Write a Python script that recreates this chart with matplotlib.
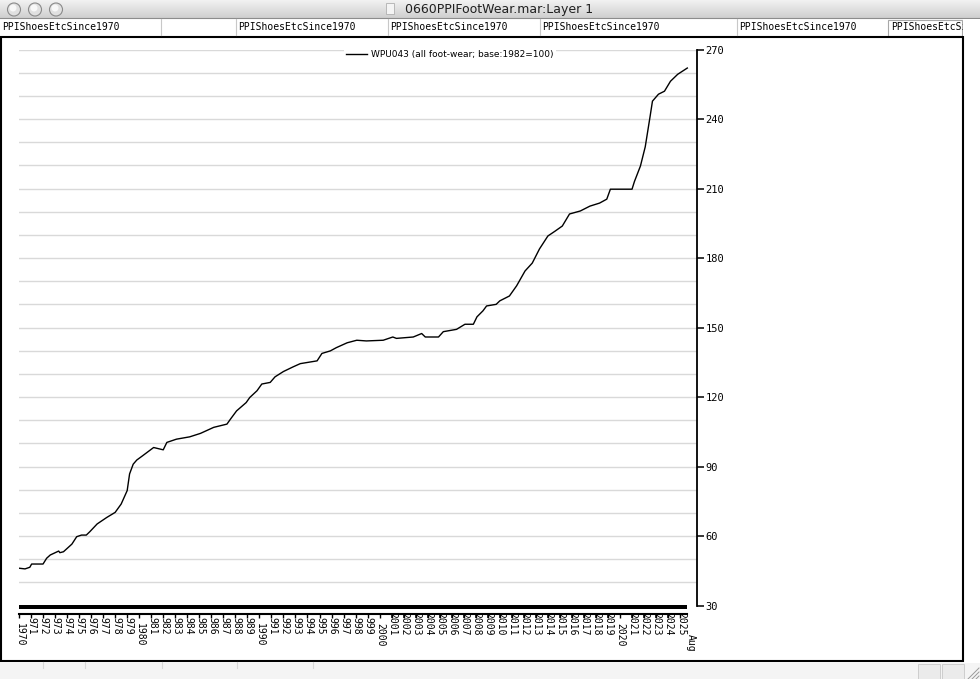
import matplotlib
matplotlib.use("Agg")
import matplotlib.pyplot as plt
from matplotlib.patches import Rectangle, Circle
from matplotlib.lines import Line2D
import numpy as np

# ---------------- data ----------------
t = [1970.0, 1970.5, 1970.9, 1971.05, 1972.0, 1972.3, 1972.6, 1973.3, 1973.4, 1973.7,
     1974.4, 1974.8, 1975.2, 1975.6, 1975.9, 1976.5, 1977.3, 1978.0, 1978.5, 1979.0,
     1979.2, 1979.5, 1979.8, 1980.3, 1981.2, 1982.0, 1982.3, 1983.1, 1984.2, 1985.1,
     1986.2, 1987.3, 1987.6, 1988.1, 1988.9, 1989.2, 1989.8, 1990.2, 1990.9, 1991.3,
     1992.0, 1992.8, 1993.4, 1994.8, 1995.2, 1995.9, 1996.4, 1997.3, 1998.1, 1998.9,
     2000.3, 2001.1, 2001.4, 2002.8, 2003.5, 2003.8, 2004.9, 2005.3, 2006.4, 2007.1,
     2007.8, 2008.1, 2008.6, 2008.9, 2009.7, 2010.0, 2010.8, 2011.4, 2012.1, 2012.7,
     2013.3, 2014.0, 2014.6, 2015.2, 2015.8, 2016.7, 2017.5, 2018.3, 2018.9, 2019.2,
     2021.0, 2021.2, 2021.7, 2022.1, 2022.5, 2022.7, 2023.2, 2023.7, 2024.2, 2024.8,
     2025.6]
wpu043 = [46.1, 45.8, 46.5, 47.9, 47.9, 50.4, 51.8, 53.5, 52.8, 53.2,
          56.5, 59.7, 60.4, 60.4, 61.9, 65.2, 68.0, 70.2, 73.8, 79.6,
          86.8, 91.0, 92.8, 94.7, 98.2, 97.2, 100.4, 101.8, 102.8, 104.3,
          106.9, 108.3, 110.5, 114.0, 117.6, 119.8, 122.7, 125.6, 126.3, 128.7,
          131.0, 133.0, 134.4, 135.6, 138.8, 139.9, 141.3, 143.4, 144.5, 144.2,
          144.5, 145.9, 145.3, 145.9, 147.4, 145.9, 145.9, 148.2, 149.2, 151.4,
          151.4, 154.6, 157.2, 159.3, 160.0, 161.5, 163.6, 168.0, 174.4, 177.8,
          183.9, 189.5, 191.6, 193.8, 199.0, 200.3, 202.4, 203.7, 205.4, 209.7,
          209.7, 213.0, 219.7, 228.0, 241.0, 247.7, 250.7, 252.0, 256.3, 259.3,
          262.0]
years = list(range(1970, 2026))
y_ticks = [30, 60, 90, 120, 150, 180, 210, 240, 270]
legend_label = "WPU043 (all foot-wear; base:1982=100)"
window_title = "0660PPIFootWear.mar:Layer 1"
tab_label = "PPIShoesEtcSince1970"

W, H = 980, 679
fig = plt.figure(figsize=(W / 100, H / 100), dpi=100)
fig.patch.set_facecolor("white")

# ---------------- window chrome (pixel coords) ----------------
bg = fig.add_axes([0, 0, 1, 1], zorder=-5)
bg.set_xlim(0, W)
bg.set_ylim(H, 0)
bg.axis("off")
grad = np.linspace(0, 1, 20).reshape(-1, 1)
bg.imshow(grad, extent=[0, W, 18, 0], cmap=matplotlib.colors.LinearSegmentedColormap.from_list(
    "tb", ["#f2f2f2", "#cfcfcf"]), aspect="auto", zorder=0)
bg.plot([0, W], [18, 18], color="#8c8c8c", lw=0.8)
for cx in (14, 35, 56):
    bg.add_patch(Circle((cx, 9.5), 6.5, facecolor="#e0e0e0", edgecolor="#8a8a8a", lw=0.8, zorder=2))
    bg.add_patch(Circle((cx - 1, 8), 3.5, facecolor="#f8f8f8", edgecolor="none", zorder=3))
bg.add_patch(Rectangle((386, 3), 8, 11, facecolor="#f4f4f4", edgecolor="#b0b0b0", lw=0.6, zorder=2))
bg.text(499, 9.5, window_title, ha="center", va="center", fontsize=9,
        family="DejaVu Sans", color="#202020")
# tabs
for xs in (161, 236, 388, 540, 737):
    bg.plot([xs, xs], [19, 35], color="#c8c8c8", lw=0.8)
bg.add_patch(Rectangle((888, 19.5), 74, 16, facecolor="white", edgecolor="#a8a8a8", lw=0.8))
for xl in (2, 238, 390, 542, 739, 891):
    bg.text(xl, 27.5, tab_label, ha="left", va="center", fontsize=7,
            family="DejaVu Sans Mono", color="black", clip_on=True)
bg.add_patch(Rectangle((963, 19), W - 963, 17, facecolor="white", edgecolor="none", zorder=3))
# chart frame
bg.add_patch(Rectangle((1, 36.5), 962, 624.5, facecolor="white", edgecolor="black", lw=1.5, zorder=1))
# bottom strip
bg.add_patch(Rectangle((0, 662.5), W, 17, facecolor="#f4f4f4", edgecolor="none", zorder=1))
for xs in (43, 85, 162, 237, 313):
    bg.plot([xs, xs], [662, 668], color="#d8d8d8", lw=0.8, zorder=2)
bg.add_patch(Rectangle((918, 664), 22, 15, facecolor="#ebebeb", edgecolor="#c8c8c8", lw=0.6, zorder=2))
bg.add_patch(Rectangle((942, 664), 22, 15, facecolor="#ebebeb", edgecolor="#c8c8c8", lw=0.6, zorder=2))
for k in range(3):
    bg.plot([968 + 4 * k, 979], [679, 668 + 4 * k], color="#9a9a9a", lw=0.7, zorder=2)

# ---------------- main axes ----------------
def fx(x):
    return x / W

def fy(y):
    return 1 - y / H

top_px, bot_px, left_px, right_px = 49.5, 605.5, 19, 697
ax = fig.add_axes([fx(left_px), fy(bot_px), fx(right_px - left_px), (bot_px - top_px) / H])
ax.set_facecolor("none")
ax.set_ylim(30, 270)
xmax = 1970 + (right_px - left_px) / 12.02
ax.set_xlim(1970, xmax)
for gv in range(40, 271, 10):
    ax.axhline(gv, color="#d9d9d9", lw=1.0, zorder=0)
ax.plot(t, wpu043, color="black", lw=1.0, zorder=3)
for s in ("top", "left", "bottom"):
    ax.spines[s].set_visible(False)
ax.spines["right"].set_linewidth(1.3)
ax.yaxis.tick_right()
ax.set_yticks(y_ticks)
ax.set_yticklabels([str(v) for v in y_ticks], family="DejaVu Sans Mono", fontsize=7.5)
ax.tick_params(axis="y", direction="out", length=5, width=1.1, pad=1, colors="black")
ax.set_xticks([])
leg_handle = Line2D([], [], color="black", lw=1.0)
leg = ax.legend([leg_handle], [legend_label], loc="center",
                bbox_to_anchor=((450 - left_px) / (right_px - left_px), (bot_px - 55) / (bot_px - top_px)),
                fontsize=6.5, frameon=True, framealpha=1, facecolor="white", edgecolor="none",
                handlelength=2.3, handletextpad=0.5, borderpad=0.25, borderaxespad=0)
leg.get_frame().set_linewidth(0)
leg.set_zorder(5)

# ---------------- date axis ----------------
ax2 = fig.add_axes([fx(left_px), fy(614), fx(right_px - left_px), 9 / H])
ax2.set_facecolor("none")
ax2.set_xlim(1970, xmax)
ax2.set_ylim(0, 9)
for s in ("top", "left", "right"):
    ax2.spines[s].set_visible(False)
ax2.spines["bottom"].set_bounds(1970, t[-1])
ax2.spines["bottom"].set_linewidth(1.5)
ax2.fill_between([1970, t[-1]], 5, 9.3, color="black", lw=0)
ax2.set_yticks([])
ax2.set_xticks(years)
ax2.set_xticklabels([])
ax2.tick_params(axis="x", direction="out", length=3, width=1, colors="black")
for yr in years:
    if yr in (1970, 1980, 1990, 2000, 2020):
        lab, off = str(yr), -9
    elif yr < 2000:
        lab, off = str(yr)[1:], -3
    else:
        lab, off = str(yr), 2
    ax2.annotate(lab, (yr + 0.06, 0), xytext=(0, off), textcoords="offset pixels",
                 rotation=270, ha="center", va="top", fontsize=7,
                 family="DejaVu Sans Mono", annotation_clip=False)
ax2.annotate("Aug", (t[-1] + 0.3, 0), xytext=(0, -20), textcoords="offset pixels",
             rotation=270, ha="center", va="top", fontsize=7,
             family="DejaVu Sans Mono", annotation_clip=False)

fig.savefig("out.png", dpi=100)
